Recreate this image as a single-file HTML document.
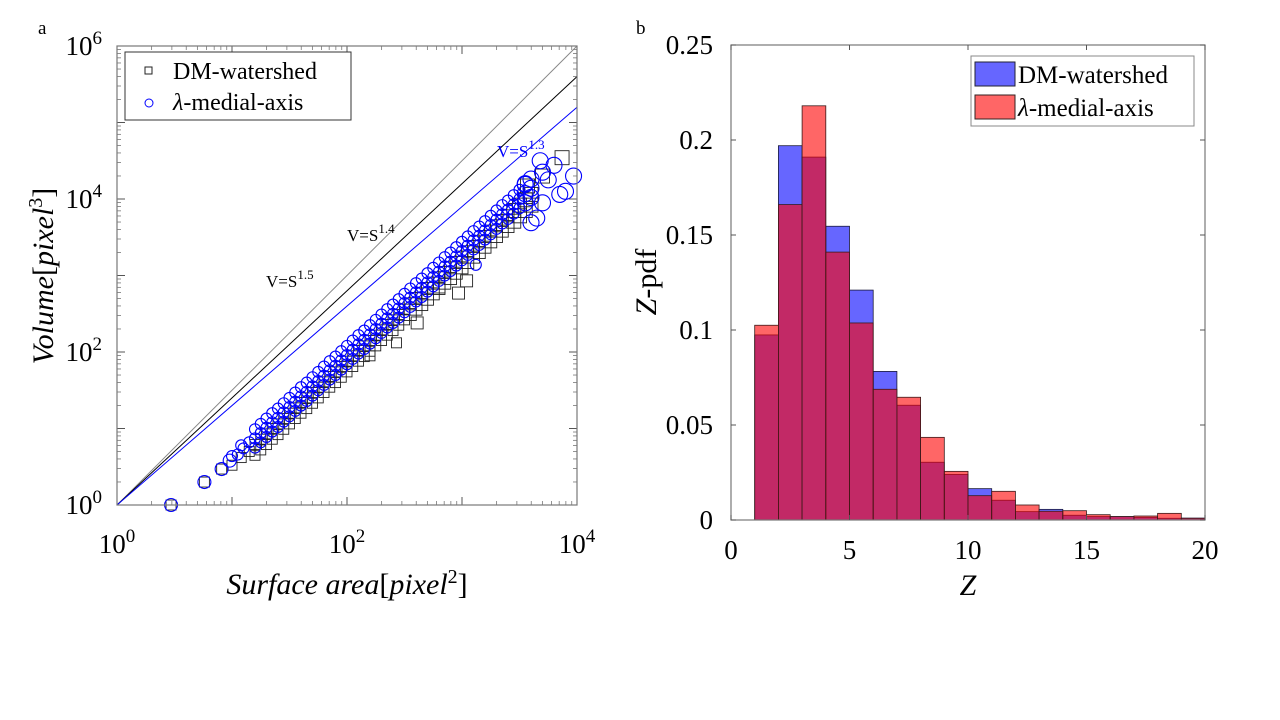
<!DOCTYPE html>
<html><head><meta charset="utf-8"><style>
html,body{margin:0;padding:0;background:#fff;}
svg{display:block;font-family:"Liberation Serif",serif;}
</style></head><body>
<svg id="fig" width="1280" height="720" viewBox="0 0 1280 720">
<text x="38" y="34" font-size="19">a</text>
<text x="636" y="34" font-size="19">b</text>
<g id="left"></g>
<g id="right"></g>
</svg>
<script>
// ---------- scatter data (log10 values) ----------
const gridLogS = [1.2,1.25,1.3,1.35,1.4,1.45,1.5,1.55,1.6,1.65,1.7,1.75,1.8,1.85,1.9,1.95,2.0,2.05,2.1,2.15,2.2,2.25,2.3,2.35,2.4,2.45,2.5,2.55,2.6,2.65,2.7,2.75,2.8,2.85,2.9,2.95,3.0,3.05,3.1,3.15,3.2,3.25,3.3,3.35,3.4,3.45,3.5,3.55,3.6];
const blueVHigh = [0.99,1.06,1.13,1.20,1.26,1.33,1.40,1.47,1.54,1.60,1.67,1.74,1.81,1.88,1.94,2.01,2.08,2.15,2.22,2.28,2.35,2.42,2.49,2.56,2.62,2.69,2.76,2.83,2.90,2.96,3.03,3.10,3.17,3.24,3.30,3.37,3.44,3.51,3.58,3.64,3.71,3.78,3.85,3.92,3.98,4.05,4.12,4.19,4.26];
const blueVMid = [0.87,0.94,1.01,1.08,1.14,1.21,1.28,1.35,1.42,1.48,1.55,1.62,1.69,1.76,1.82,1.89,1.96,2.03,2.10,2.16,2.23,2.30,2.37,2.44,2.50,2.57,2.64,2.71,2.78,2.84,2.91,2.98,3.05,3.12,3.18,3.25,3.32,3.39,3.46,3.52,3.59,3.66,3.73,3.80,3.86,3.93,4.00,4.07,4.14];
const blueVLow = [0.75,0.82,0.89,0.96,1.02,1.09,1.16,1.23,1.30,1.36,1.43,1.50,1.57,1.64,1.70,1.77,1.84,1.91,1.98,2.04,2.11,2.18,2.25,2.32,2.38,2.45,2.52,2.59,2.66,2.72,2.79,2.86,2.93,3.00,3.06,3.13,3.20,3.27,3.34,3.40,3.47,3.54,3.61,3.68,3.74,3.81,3.88,3.95,4.02];
const blackVHigh = [0.79,0.86,0.93,1.00,1.06,1.13,1.20,1.27,1.34,1.40,1.47,1.54,1.61,1.68,1.74,1.81,1.88,1.95,2.02,2.08,2.15,2.22,2.29,2.36,2.42,2.49,2.56,2.63,2.70,2.76,2.83,2.90,2.97,3.04,3.10,3.17,3.24,3.31,3.38,3.44,3.51,3.58,3.65,3.72,3.78,3.85,3.92,3.99,4.06];
const blackVLow = [0.65,0.72,0.79,0.86,0.92,0.99,1.06,1.13,1.20,1.26,1.33,1.40,1.47,1.54,1.60,1.67,1.74,1.81,1.88,1.94,2.01,2.08,2.15,2.22,2.28,2.35,2.42,2.49,2.56,2.62,2.69,2.76,2.83,2.90,2.96,3.03,3.10,3.17,3.24,3.30,3.37,3.44,3.51,3.58,3.64,3.71,3.78,3.85,3.92];
const blueExtraS = [0.47,0.76,0.91,0.98,1.05,1.1,1.15,1.0,1.08,3.12,3.6,3.65,3.7,3.8,3.85,3.97,3.75,3.9,3.55,3.7,3.68];
const blueExtraV = [0.0,0.30,0.47,0.58,0.66,0.74,0.82,0.64,0.78,3.14,3.69,3.75,3.95,4.44,4.06,4.30,4.25,4.10,4.20,4.35,4.5];
const blackExtraS = [0.47,0.76,0.91,1.0,1.08,1.15,3.04,2.97,2.61,2.43,3.87,3.57,3.7,2.2,2.8];
const blackExtraV = [0.0,0.30,0.47,0.52,0.62,0.70,2.93,2.77,2.38,2.12,4.54,4.17,4.3,1.95,2.85];
const refExponents = [1.5,1.4,1.3];
const xTickExp = [0,2,4];
const yTickExp = [0,2,4,6];

// ---------- histogram data ----------
const binEdgesStart = [1,2,3,4,5,6,7,8,9,10,11,12,13,14,15,16,17,18,19];
const dmPdf = [0.0974,0.197,0.191,0.1546,0.121,0.0782,0.0604,0.0304,0.024,0.0165,0.0104,0.0044,0.0056,0.0025,0.0018,0.0018,0.0014,0.0009,0.001];
const lamPdf = [0.1025,0.166,0.218,0.141,0.1037,0.0688,0.0646,0.0435,0.0256,0.0128,0.0151,0.0079,0.0046,0.0049,0.0028,0.0018,0.0021,0.0035,0.0009];
const histXTicks = [0,5,10,15,20];
const histYTicks = [0,0.05,0.1,0.15,0.2,0.25];
const histYLabels = ["0","0.05","0.1","0.15","0.2","0.25"];

const NS="http://www.w3.org/2000/svg";
function mk(tag, attrs, parent, text){const e=document.createElementNS(NS,tag);for(const k in attrs)e.setAttribute(k,attrs[k]);if(text!==undefined)e.textContent=text;parent.appendChild(e);return e;}

// ---------- left scatter ----------
const L=document.getElementById('left');
const lx0=117,lx1=577,ly0=505,ly1=46;
const sx=v=>lx0+(v-0)/4*(lx1-lx0);
const sy=v=>ly0-(v-0)/6*(ly0-ly1);
for(let d=0;d<4;d++)for(let m=2;m<10;m++){const v=d+Math.log10(m);const x=sx(v);
 let t=mk('line',{x1:x,y1:ly0,x2:x,y2:ly0-4,stroke:'#777','stroke-width':0.8},L);
 t=mk('line',{x1:x,y1:ly1,x2:x,y2:ly1+4,stroke:'#777','stroke-width':0.8},L);}
for(let d=0;d<6;d++)for(let m=2;m<10;m++){const v=d+Math.log10(m);const y=sy(v);
 let t=mk('line',{x1:lx0,y1:y,x2:lx0+4,y2:y,stroke:'#777','stroke-width':0.8},L);
 t=mk('line',{x1:lx1,y1:y,x2:lx1-4,y2:y,stroke:'#777','stroke-width':0.8},L);}
for(let d=0;d<=4;d++){const x=sx(d);mk('line',{x1:x,y1:ly0,x2:x,y2:ly0-8,stroke:'#555'},L);mk('line',{x1:x,y1:ly1,x2:x,y2:ly1+8,stroke:'#555'},L);}
for(let d=0;d<=6;d++){const y=sy(d);mk('line',{x1:lx0,y1:y,x2:lx0+8,y2:y,stroke:'#555'},L);mk('line',{x1:lx1,y1:y,x2:lx1-8,y2:y,stroke:'#555'},L);}
const refColors=['#888','#000','#0000ff'];
refExponents.forEach((k,i)=>{let xe=4, ye=k*4; if(ye>6){ye=6;xe=6/k;}
 const l=mk('line',{x1:sx(0),y1:sy(0),x2:sx(xe),y2:sy(ye),stroke:refColors[i],'stroke-width':1},L);
 
 });
// black squares
const gB=mk('g',{},L);
function square(s,v){const h=s>3.4?7:(s>2.5?6:5);
 const r=mk('rect',{x:sx(s)-h,y:sy(v)-h,width:2*h,height:2*h,fill:'none',stroke:'#222','stroke-width':0.9},gB);
 }
gridLogS.forEach((s,i)=>{square(s,blackVHigh[i]);square(s,blackVLow[i]);});
blackExtraS.forEach((s,i)=>square(s,blackExtraV[i]));
// blue circles
const gC=mk('g',{},L);
function circ(s,v){const rr=s>3.5?8:(s<1?6.5:5.5);
 const c=mk('circle',{cx:sx(s),cy:sy(v),r:rr,fill:'none',stroke:'#0000ff','stroke-width':1.1},gC);
 }
gridLogS.forEach((s,i)=>{circ(s,blueVHigh[i]);circ(s,blueVMid[i]);circ(s,blueVLow[i]);});
blueExtraS.forEach((s,i)=>circ(s,blueExtraV[i]));
mk('rect',{x:lx0,y:ly1,width:lx1-lx0,height:ly0-ly1,fill:'none',stroke:'#777','stroke-width':1.2},L);
let a=mk('text',{x:266,y:287,'font-size':17},L);a.innerHTML='V=S<tspan dy="-8" font-size="13">1.5</tspan>';
a=mk('text',{x:347,y:241,'font-size':17},L);a.innerHTML='V=S<tspan dy="-8" font-size="13">1.4</tspan>';
a=mk('text',{x:497,y:157,'font-size':17,fill:'#0000ff'},L);a.innerHTML='V=S<tspan dy="-8" font-size="13">1.3</tspan>';
xTickExp.forEach(e=>{const t=mk('text',{x:sx(e),y:553,'font-size':27,'text-anchor':'middle'},L);t.innerHTML='10<tspan dy="-11" font-size="19">'+e+'</tspan>';});
yTickExp.forEach(e=>{const t=mk('text',{x:102,y:sy(e)+9,'font-size':27,'text-anchor':'end'},L);t.innerHTML='10<tspan dy="-11" font-size="19">'+e+'</tspan>';});
a=mk('text',{x:347,y:594,'font-size':30,'text-anchor':'middle'},L);a.innerHTML='<tspan font-style="italic">Surface area</tspan>[<tspan font-style="italic">pixel</tspan><tspan dy="-11" font-size="20">2</tspan><tspan dy="11">]</tspan>';
a=mk('text',{x:0,y:0,'font-size':30,'text-anchor':'middle',transform:'translate(53,276) rotate(-90)'},L);a.innerHTML='<tspan font-style="italic">Volume</tspan>[<tspan font-style="italic">pixel</tspan><tspan dy="-11" font-size="20">3</tspan><tspan dy="11">]</tspan>';
const lg=mk('g',{},L);
mk('rect',{x:125,y:52,width:226,height:68,fill:'#fff',stroke:'#333','stroke-width':1},lg);
mk('rect',{x:145,y:67,width:7,height:7,fill:'none',stroke:'#222'},lg);
mk('circle',{cx:149,cy:103,r:4,fill:'none',stroke:'#0000ff'},lg);
a=mk('text',{x:173,y:79,'font-size':24},lg,'DM-watershed');
a=mk('text',{x:173,y:110,'font-size':24},lg);a.innerHTML='<tspan font-style="italic">λ</tspan>-medial-axis';

// ---------- right histogram ----------
const R=document.getElementById('right');
const rx0=731,rx1=1205,ry0=520,ry1=45;
const hx=v=>rx0+v/20*(rx1-rx0);
const hy=v=>ry0-v/0.25*(ry0-ry1);
const gDM=mk('g',{},R);
binEdgesStart.forEach((b,i)=>{const r=mk('rect',{x:hx(b),y:hy(dmPdf[i]),width:hx(b+1)-hx(b),height:hy(0)-hy(dmPdf[i]),fill:'rgba(0,0,255,0.6)',stroke:'#1a1a3a','stroke-width':0.8},gDM);
 });
const gL=mk('g',{},R);
binEdgesStart.forEach((b,i)=>{const r=mk('rect',{x:hx(b),y:hy(lamPdf[i]),width:hx(b+1)-hx(b),height:hy(0)-hy(lamPdf[i]),fill:'rgba(255,0,0,0.6)',stroke:'#3a1a1a','stroke-width':0.8},gL);
 });
mk('rect',{x:rx0,y:ry1,width:rx1-rx0,height:ry0-ry1,fill:'none',stroke:'#777','stroke-width':1.2},R);
histXTicks.forEach(v=>{const x=hx(v);mk('line',{x1:x,y1:ry0,x2:x,y2:ry0-5,stroke:'#555'},R);mk('line',{x1:x,y1:ry1,x2:x,y2:ry1+5,stroke:'#555'},R);
 const t=mk('text',{x:x,y:559,'font-size':27,'text-anchor':'middle'},R,String(v));});
histYTicks.forEach((v,i)=>{const y=hy(v);mk('line',{x1:rx0,y1:y,x2:rx0+5,y2:y,stroke:'#555'},R);mk('line',{x1:rx1,y1:y,x2:rx1-5,y2:y,stroke:'#555'},R);
 const t=mk('text',{x:713,y:y+9,'font-size':27,'text-anchor':'end'},R,histYLabels[i]);});
a=mk('text',{x:968,y:595,'font-size':30,'font-style':'italic','text-anchor':'middle'},R,'Z');
a=mk('text',{x:0,y:0,'font-size':30,'text-anchor':'middle',transform:'translate(656,282) rotate(-90)'},R);a.innerHTML='<tspan font-style="italic">Z</tspan>-pdf';
const lg2=mk('g',{},R);
mk('rect',{x:971,y:56,width:223,height:70,fill:'#fff',stroke:'#888','stroke-width':1},lg2);
mk('rect',{x:975,y:62,width:40,height:24,fill:'#6666ff',stroke:'#223'},lg2);
mk('rect',{x:975,y:95,width:40,height:24,fill:'#ff6666',stroke:'#322'},lg2);
a=mk('text',{x:1018,y:83,'font-size':25},lg2,'DM-watershed');
a=mk('text',{x:1018,y:116,'font-size':25},lg2);a.innerHTML='<tspan font-style="italic">λ</tspan>-medial-axis';
</script>
</body></html>
